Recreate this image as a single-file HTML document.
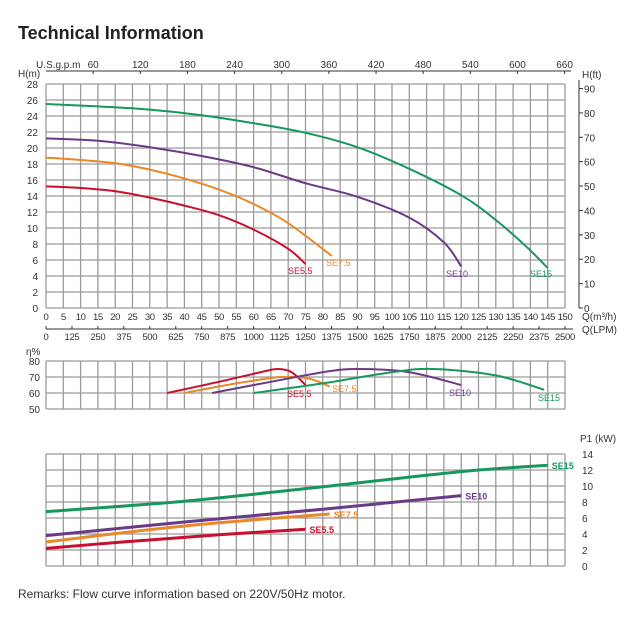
<!DOCTYPE html>
<html><head><meta charset="utf-8"><style>
body{margin:0;background:#fff;width:624px;height:618px;overflow:hidden;font-family:"Liberation Sans",sans-serif}
svg{position:absolute;left:0;top:0}
</style></head><body>
<svg id="c" width="624" height="618" font-family="Liberation Sans, sans-serif">
<text x="18" y="39" font-size="18" font-weight="bold" fill="#222">Technical Information</text>
<text x="18" y="598" font-size="12" fill="#333">Remarks: Flow curve information based on 220V/50Hz motor.</text>
</svg>
<script>
const qTicks=[0,5,10,15,20,25,30,35,40,45,50,55,60,65,70,75,80,85,90,95,100,105,110,115,120,125,130,135,140,145,150];
const lpmTicks=[0,125,250,375,500,625,750,875,1000,1125,1250,1375,1500,1625,1750,1875,2000,2125,2250,2375,2500];
const gpmTicks=[60,120,180,240,300,360,420,480,540,600,660];
const hTicks=[0,2,4,6,8,10,12,14,16,18,20,22,24,26,28];
const ftTicks=[0,10,20,30,40,50,60,70,80,90];
const effTicks=[50,60,70,80];
const pTicks=[0,2,4,6,8,10,12,14];
const names=["SE5.5","SE7.5","SE10","SE15"];
const colors=["#c8102e","#e8892a","#6b3a87","#17975e"];
const hQ=[[0,10,20,30,40,50,60,70,75],[0,10,20,30,40,50,60,70,82.6],[0,15,30,45,60,75,90,105,115,120],[0,15,30,45,60,75,90,105,120,130,139,145]];
const hV=[[15.2,15,14.6,13.8,12.8,11.6,9.8,7.4,5.5],[18.8,18.5,18.1,17.3,16.2,14.8,13,10.6,6.5],[21.2,20.9,20.1,19,17.6,15.6,13.9,11.3,8.2,5.2],[25.5,25.2,24.8,24.1,23.1,21.9,20.1,17.4,14.1,11,7.6,5]];
const eQ=[[35,50,62,67,71,75],[40,55,68,76,82],[48,65,80,90,105,120],[60,80,100,112,130,144]];
const eV=[[60,67,73,75,73,65],[60,66,70,69,64],[60,67,73,75,73,65],[60,66,73,75,71,62]];
const pQ=[[0,25,50,75],[0,25,50,82],[0,40,80,120],[0,40,80,120,145]];
const pV=[[2.2,3.1,3.9,4.6],[3.0,4.3,5.4,6.5],[3.8,5.5,7.1,8.8],[6.8,8.1,9.9,11.8,12.6]];

const svg=document.getElementById('c');const NS='http://www.w3.org/2000/svg';
function el(t,a,txt){const e=document.createElementNS(NS,t);for(const k in a)e.setAttribute(k,a[k]);if(txt!==undefined)e.textContent=txt;svg.appendChild(e);return e;}
const X0=46,X1=565;
const x=q=>X0+q*(X1-X0)/150;
const yH=h=>308-h*8;
const yE=v=>409-(v-50)*1.6;
const yP=v=>566-v*8;
function path(qs,vs,yf){const p=qs.map((q,i)=>[x(q),yf(vs[i])]);let d='M'+p[0][0]+','+p[0][1];
for(let i=0;i<p.length-1;i++){const p0=p[i-1]||p[i],p1=p[i],p2=p[i+1],p3=p[i+2]||p2;
d+=' C'+(p1[0]+(p2[0]-p0[0])/6)+','+(p1[1]+(p2[1]-p0[1])/6)+' '+(p2[0]-(p3[0]-p1[0])/6)+','+(p2[1]-(p3[1]-p1[1])/6)+' '+p2[0]+','+p2[1];}return d;}
function grid(yTop,yBot,rows,name){const g=el('g',{stroke:'#9a9a9a','stroke-width':1.3,fill:'none'});
for(let i=0;i<=30;i++){const l=document.createElementNS(NS,'line');const xx=x(i*5);l.setAttribute('x1',xx);l.setAttribute('x2',xx);l.setAttribute('y1',yTop);l.setAttribute('y2',yBot);g.appendChild(l);}
for(let j=0;j<=rows;j++){const l=document.createElementNS(NS,'line');const yy=yTop+(yBot-yTop)*j/rows;l.setAttribute('x1',X0);l.setAttribute('x2',X1);l.setAttribute('y1',yy);l.setAttribute('y2',yy);g.appendChild(l);}}
grid(yH(28),yH(0),14,'head-grid');
hTicks.forEach(h=>{const t=el('text',{x:38,y:yH(h)+4,'font-size':10,'text-anchor':'end',fill:'#333'},h);});
el('text',{x:18,y:77,'font-size':10,fill:'#333',},'H(m)');
qTicks.forEach(q=>{const t=el('text',{x:x(q),y:320,'font-size':9.5,'text-anchor':'middle',fill:'#333','letter-spacing':'-0.4'},q);});
el('line',{x1:X0,x2:X1+8,y1:329,y2:329,stroke:'#333','stroke-width':1,});
lpmTicks.forEach(v=>{const xx=x(v*0.06);el('line',{x1:xx,x2:xx,y1:326,y2:329,stroke:'#333'});const t=el('text',{x:xx,y:340,'font-size':9.5,'text-anchor':'middle',fill:'#333','letter-spacing':'-0.3'},v);});
el('text',{x:582,y:320,'font-size':10,fill:'#333',},'Q(m³/h)');
el('text',{x:582,y:333,'font-size':10,fill:'#333',},'Q(LPM)');
el('line',{x1:X0,x2:X1+6,y1:71,y2:71,stroke:'#333',});
el('text',{x:36,y:68,'font-size':10,fill:'#333',},'U.S.g.p.m');
gpmTicks.forEach(g=>{const xx=x(g*0.2271);el('line',{x1:xx,x2:xx,y1:71,y2:74,stroke:'#333'});const t=el('text',{x:xx,y:68,'font-size':10,'text-anchor':'middle',fill:'#333'},g);});
el('line',{x1:579,x2:579,y1:80,y2:308,stroke:'#333',});
el('text',{x:582,y:78,'font-size':10,fill:'#333',},'H(ft)');
ftTicks.forEach(f=>{const yy=yH(f*0.3048);el('line',{x1:579,x2:583,y1:yy,y2:yy,stroke:'#333'});const t=el('text',{x:584,y:yy+4,'font-size':10,fill:'#333'},f);});
const hLab=[[288,274],[326,266],[446,277],[530,277]];
names.forEach((n,i)=>{const p=el('path',{d:path(hQ[i],hV[i],yH),stroke:colors[i],'stroke-width':2,fill:'none'});
const t=el('text',{x:hLab[i][0],y:hLab[i][1],'font-size':9,fill:colors[i]},n);});
grid(yE(80),yE(50),3,'efficiency-grid');
el('text',{x:26,y:355,'font-size':10,fill:'#333',},'η%');
effTicks.forEach(v=>{const t=el('text',{x:40,y:yE(v)+4,'font-size':10,'text-anchor':'end',fill:'#333'},v);});
const eLab=[[287,397],[332,392],[449,396],[538,401]];
names.forEach((n,i)=>{const p=el('path',{d:path(eQ[i],eV[i],yE),stroke:colors[i],'stroke-width':2,fill:'none'});
const t=el('text',{x:eLab[i][0],y:eLab[i][1],'font-size':9,fill:colors[i]},n);});
grid(yP(14),yP(0),7,'power-grid');
el('text',{x:580,y:442,'font-size':10,fill:'#333',},'P1 (kW)');
pTicks.forEach(v=>{const t=el('text',{x:582,y:yP(v)+4,'font-size':10,fill:'#333'},v);});
names.forEach((n,i)=>{const p=el('path',{d:path(pQ[i],pV[i],yP),stroke:colors[i],'stroke-width':3,fill:'none'});
const q=pQ[i][pQ[i].length-1],v=pV[i][pV[i].length-1];
const t=el('text',{x:x(q)+4,y:yP(v)+4,'font-size':9,'font-weight':'bold',fill:colors[i]},n);});
</script>
</body></html>
